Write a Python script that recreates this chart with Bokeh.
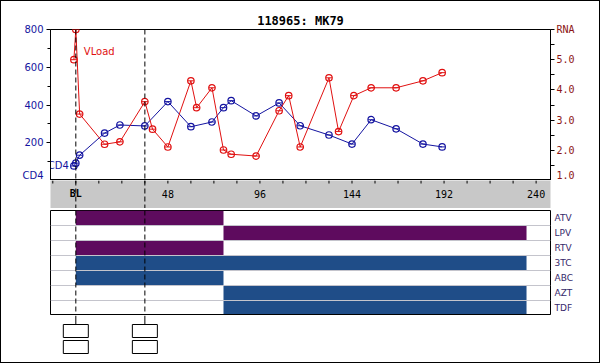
from bokeh.plotting import figure
from bokeh.layouts import column
from bokeh.models import Range1d, LinearAxis, FixedTicker, Span, InlineStyleSheet
from bokeh.core.properties import value
from bokeh.embed import file_html
from bokeh.resources import INLINE

# ---------------- data ----------------
title_text = "118965: MK79"

cd4_weeks = [-1, 0, 2, 15, 23, 36, 48, 60, 71, 77, 81, 94, 106, 117, 132, 144, 154, 167, 181, 191]
cd4_values = [77, 92, 134, 251, 294, 289, 418, 285, 310, 386, 423, 342, 411, 290, 241, 193, 322, 274, 193, 178]

rna_weeks = [-1, 0, 2, 15, 23, 36, 40, 48, 60, 63, 71, 77, 81, 94, 106, 111, 117, 132, 137, 145, 154, 167, 181, 191]
rna_values = [5.0, 6.0, 3.2, 2.2, 2.28, 3.61, 2.7, 2.11, 4.3, 3.41, 4.07, 2.01, 1.87, 1.81, 3.31, 3.81, 2.11,
              4.4, 2.62, 3.81, 4.07, 4.07, 4.3, 4.57]

visit_weeks = [0, 36]

xtick_values = [0, 48, 96, 144, 192, 240]
xtick_labels = ["BL", "48", "96", "144", "192", "240"]
xminor_values = [-12, 0, 12, 24, 36, 48, 60, 72, 84, 96, 108, 120, 132, 144, 156, 168, 180, 192, 204, 216, 228, 240]

cd4_ticks = [0, 200, 400, 600, 800]
cd4_tick_labels = ["CD4", "200", "400", "600", "800"]
cd4_minor = [100, 300, 500, 700]

rna_ticks = [1, 2, 3, 4, 5, 6]
rna_tick_labels = ["1.0", "2.0", "3.0", "4.0", "5.0", "RNA"]
rna_minor = [1.5, 2.5, 3.5, 4.5, 5.5]

drugs = ["ATV", "LPV", "RTV", "3TC", "ABC", "AZT", "TDF"]
drug_start = [0, 77, 0, 0, 0, 77, 77]
drug_end = [77, 235, 77, 235, 77, 235, 235]
drug_class = ["PI", "PI", "PI", "NRTI", "NRTI", "NRTI", "NRTI"]

# ---------------- styles ----------------
BLUE = "#1414a0"
RED = "#e01010"
CLASS_COLORS = {"PI": "#5e0b5e", "NRTI": "#1f4d88"}
W = 600
SANS = "DejaVu Sans"
MONO = "DejaVu Sans Mono"
DASH = "5 3"

xr = Range1d(-13.2, 247.5)


def base(height, **kw):
    p = figure(width=W, height=height, x_range=xr, output_backend="svg", toolbar_location=None,
               min_border=0, min_border_left=50, min_border_right=50, **kw)
    p.background_fill_color = "white"
    p.border_fill_color = "white"
    p.xgrid.visible = False
    p.ygrid.visible = False
    return p


# ---------------- top chart ----------------
top = base(180, y_range=Range1d(0, 800), x_axis_location=None, y_axis_location="left", min_border_top=29)
top.outline_line_color = "black"
top.outline_line_width = 1
top.title.text = title_text
top.title.align = "center"
top.title.text_font = MONO
top.title.text_font_style = "bold"
top.title.text_font_size = "12px"
top.title.text_color = "black"
top.title.standoff = 3

lax = top.yaxis[0]
lax.ticker = FixedTicker(ticks=cd4_ticks, minor_ticks=cd4_minor)
lax.major_label_overrides = dict(zip(cd4_ticks, cd4_tick_labels))
lax.major_label_text_color = BLUE
lax.major_label_text_font = SANS
lax.major_label_text_font_size = "10px"
lax.major_tick_out = 4
lax.major_tick_in = 0
lax.minor_tick_out = 3
lax.minor_tick_in = 0
lax.major_label_standoff = 3
lax.axis_line_color = "black"

top.extra_y_ranges = {"rna": Range1d(1, 6)}
rax = LinearAxis(y_range_name="rna", ticker=FixedTicker(ticks=rna_ticks, minor_ticks=rna_minor),
                 major_label_overrides=dict(zip(rna_ticks, rna_tick_labels)))
rax.major_label_text_color = "#8c1414"
rax.major_label_text_font = MONO
rax.major_label_text_font_size = "10px"
rax.major_tick_out = 4
rax.major_tick_in = 0
rax.minor_tick_out = 4
rax.minor_tick_in = 0
rax.major_label_standoff = 2
top.add_layout(rax, "right")

top.line(cd4_weeks, cd4_values, line_color=BLUE, line_width=1)
top.scatter(cd4_weeks, cd4_values, marker="circle", size=6.5, fill_color=None, line_color=BLUE, line_width=1.2)
top.scatter(cd4_weeks, cd4_values, marker="dash", size=6, line_color=BLUE, line_width=1)

top.line(rna_weeks, rna_values, y_range_name="rna", line_color=RED, line_width=1)
top.scatter(rna_weeks, rna_values, y_range_name="rna", marker="circle", size=6.5, fill_color=None,
            line_color=RED, line_width=1.2)
top.scatter(rna_weeks, rna_values, y_range_name="rna", marker="dash", size=6, line_color=RED, line_width=1)

top.text(x=[cd4_weeks[0]], y=[cd4_values[0]], text=["CD4"], text_align="right", text_baseline="middle",
         x_offset=-5, text_color=BLUE, text_font=value(SANS), text_font_size="10px")
top.text(x=[rna_weeks[1]], y=[rna_values[1]], text=["VLoad"], y_range_name="rna", text_align="left",
         text_baseline="middle", x_offset=8, y_offset=22, text_color=RED, text_font=value(SANS),
         text_font_size="10px")

for w in visit_weeks:
    top.add_layout(Span(location=w, dimension="height", line_color="black", line_dash=DASH, line_width=1))

# ---------------- grey week band ----------------
band = base(28, y_range=Range1d(28, 0), x_axis_location=None, y_axis_location=None)
band.background_fill_color = "#c8c8c8"
band.outline_line_color = None
band.segment(x0=xminor_values, y0=[0] * len(xminor_values), x1=xminor_values, y1=[3] * len(xminor_values),
             line_color="black", line_width=1)
bold_x = [x for x, t in zip(xtick_values, xtick_labels) if t == "BL"]
bold_t = [t for t in xtick_labels if t == "BL"]
norm_x = [x for x, t in zip(xtick_values, xtick_labels) if t != "BL"]
norm_t = [t for t in xtick_labels if t != "BL"]
band.text(x=bold_x, y=[13] * len(bold_x), text=bold_t, text_align="center", text_baseline="middle",
          text_font=value(MONO), text_font_style="bold", text_font_size="10px", text_color="black")
band.text(x=norm_x, y=[13] * len(norm_x), text=norm_t, text_align="center", text_baseline="middle",
          text_font=value(MONO), text_font_size="10px", text_color="black")
for w in visit_weeks:
    band.add_layout(Span(location=w, dimension="height", line_color="black", line_dash=DASH, line_width=1))

# ---------------- drug regimen panel ----------------
n = len(drugs)
rows = [n - i - 0.5 for i in range(n)]
bot = base(107, y_range=Range1d(0, n), x_axis_location=None, y_axis_location="right", min_border_top=2)
bot.outline_line_color = "black"
bot.outline_line_width = 1
bot.hbar(y=rows, left=drug_start, right=drug_end, height=1,
         fill_color=[CLASS_COLORS[c] for c in drug_class], line_color=None)
for b in range(1, n):
    bot.add_layout(Span(location=b, dimension="width", line_color="#c4c4cc", line_width=1))
bot.add_layout(Span(location=0, dimension="width", line_color="black", line_width=3))
for w in visit_weeks:
    bot.add_layout(Span(location=w, dimension="height", line_color="black", line_dash=DASH, line_width=1))
dax = bot.yaxis[0]
dax.ticker = FixedTicker(ticks=rows, minor_ticks=[])
dax.major_label_overrides = dict(zip(rows, drugs))
dax.major_label_text_color = "#35286a"
dax.major_label_text_font = SANS
dax.major_label_text_font_size = "9px"
dax.major_tick_out = 0
dax.major_tick_in = 0
dax.minor_tick_out = 0
dax.axis_line_color = None
dax.major_label_standoff = 4

# ---------------- visit boxes ----------------
box = base(49, y_range=Range1d(49, 0), x_axis_location=None, y_axis_location=None)
box.outline_line_color = None
box.segment(x0=visit_weeks, y0=[0] * len(visit_weeks), x1=visit_weeks, y1=[9] * len(visit_weeks),
            line_color="black", line_width=1)
box.rect(x=visit_weeks, y=[15.5] * len(visit_weeks), width=25, height=13, width_units="screen",
         fill_color="white", line_color="black", line_width=1)
box.rect(x=visit_weeks, y=[31.5] * len(visit_weeks), width=25, height=13, width_units="screen",
         fill_color="white", line_color="black", line_width=1)

frame_css = InlineStyleSheet(css="""
:host { position: relative; }
:host::after {
  content: "";
  position: absolute;
  left: 0; top: 0; width: 600px; height: 363px;
  box-sizing: border-box;
  border: 1px solid black;
  pointer-events: none;
  z-index: 100;
}
""")

layout = column(top, band, bot, box, spacing=0, stylesheets=[frame_css])

open("out.html", "w").write(file_html(layout, INLINE))
